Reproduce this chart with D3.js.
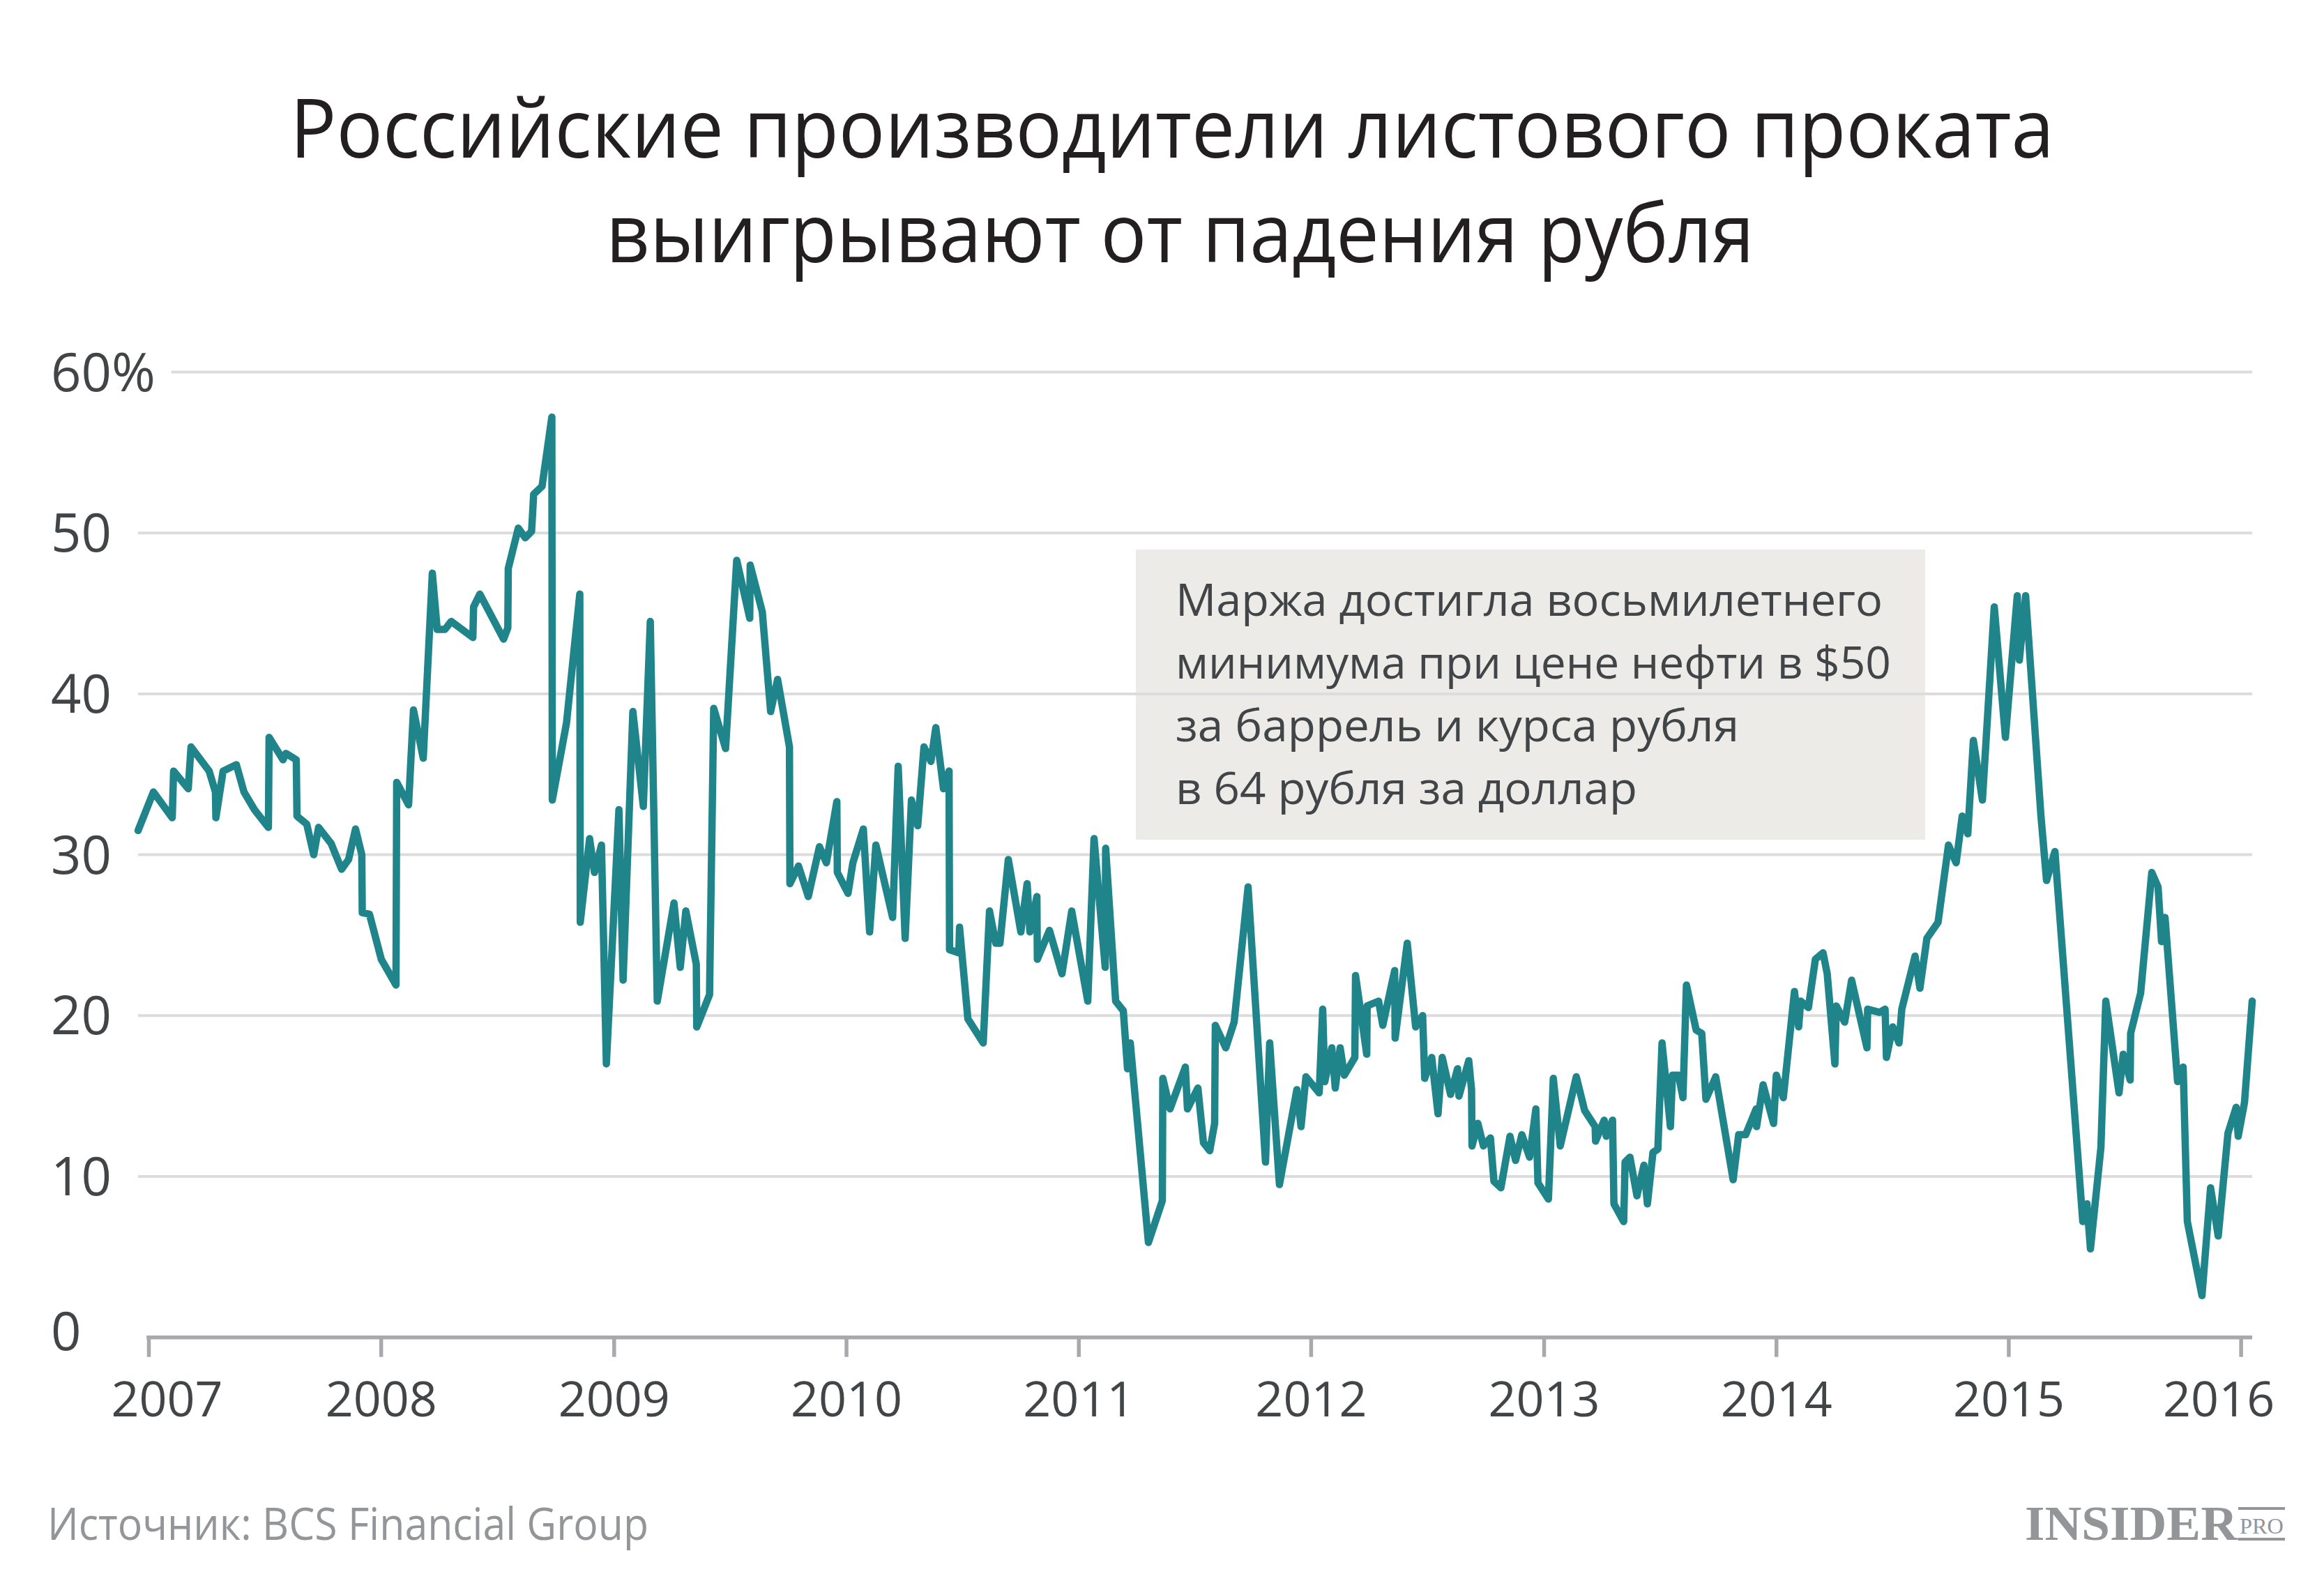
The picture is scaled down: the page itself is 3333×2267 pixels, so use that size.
<!DOCTYPE html>
<html><head><meta charset="utf-8">
<script src="https://cdn.jsdelivr.net/npm/d3@7"></script>
<style>html,body{margin:0;padding:0;background:#fff;} svg{display:block;}</style>
</head><body>
<svg id="chart" width="3333" height="2267"></svg>
<script>
// ---------- data ----------
const titleLines = ["Российские производители листового проката", "выигрывают от падения рубля"];
const noteLines = ["Маржа достигла восьмилетнего", "минимума при цене нефти в $50", "за баррель и курса рубля", "в 64 рубля за доллар"];
const sourceText = "Источник: BCS Financial Group";
const logoMain = "INSIDER";
const logoSub = "PRO";
const yTickValues = [0, 10, 20, 30, 40, 50, 60];
const yTickLabels = ["0", "10", "20", "30", "40", "50", "60%"];
const xTickYears = [2007, 2008, 2009, 2010, 2011, 2012, 2013, 2014, 2015, 2016];

// dates as decimal years, values in %
const pointYears = [
2006.955, 2007.021, 2007.102, 2007.108, 2007.171, 2007.183, 2007.261, 2007.288, 2007.290, 2007.321, 2007.378, 2007.411, 2007.456, 2007.516, 2007.519, 2007.579, 2007.591, 2007.636, 2007.639, 2007.681, 2007.711, 2007.732, 2007.786, 2007.831, 2007.861, 2007.891, 2007.918, 2007.920, 2007.951, 2008.002, 2008.065, 2008.068, 2008.119, 2008.140,
2008.182, 2008.221, 2008.242, 2008.275, 2008.302, 2008.395, 2008.398, 2008.425, 2008.527, 2008.545, 2008.547, 2008.590, 2008.620, 2008.647, 2008.656, 2008.692, 2008.734, 2008.736, 2008.797, 2008.854, 2008.856, 2008.896, 2008.917, 2008.947, 2008.968, 2009.022, 2009.040, 2009.082, 2009.127, 2009.157, 2009.187, 2009.259, 2009.286,
2009.310, 2009.355, 2009.357, 2009.412, 2009.430, 2009.481, 2009.529, 2009.585, 2009.587, 2009.639, 2009.675, 2009.705, 2009.756, 2009.758, 2009.795, 2009.837, 2009.885, 2009.915, 2009.960, 2009.962,
2010.008, 2010.029, 2010.074, 2010.101, 2010.128, 2010.200, 2010.224, 2010.254, 2010.281, 2010.308, 2010.335, 2010.365, 2010.386, 2010.419, 2010.443, 2010.445, 2010.485, 2010.488, 2010.524, 2010.590, 2010.617, 2010.644, 2010.662, 2010.698, 2010.752, 2010.779, 2010.791, 2010.821, 2010.823, 2010.875, 2010.929, 2010.971,
2011.040, 2011.067, 2011.115, 2011.117, 2011.160, 2011.193, 2011.211, 2011.223, 2011.301, 2011.361, 2011.363, 2011.394, 2011.460, 2011.469, 2011.514, 2011.538, 2011.565, 2011.586, 2011.589, 2011.634, 2011.670,
2011.730, 2011.805, 2011.823, 2011.865, 2011.940, 2011.958, 2011.979,
2012.036, 2012.051, 2012.060, 2012.090, 2012.105, 2012.126, 2012.144, 2012.189, 2012.192, 2012.240, 2012.242, 2012.291, 2012.309, 2012.360, 2012.362, 2012.414, 2012.450, 2012.480, 2012.489, 2012.519, 2012.546, 2012.564, 2012.600, 2012.630, 2012.636, 2012.678, 2012.690, 2012.692, 2012.717, 2012.741, 2012.771, 2012.786, 2012.816, 2012.855, 2012.879,
2012.906, 2012.939, 2012.966, 2012.975,
2013.020, 2013.041, 2013.071, 2013.140, 2013.176, 2013.221, 2013.223, 2013.260, 2013.269, 2013.296, 2013.302, 2013.344, 2013.350, 2013.371, 2013.401, 2013.431, 2013.446, 2013.470, 2013.491, 2013.509, 2013.545, 2013.554, 2013.580, 2013.599, 2013.614, 2013.656, 2013.680, 2013.698, 2013.740, 2013.815, 2013.839, 2013.869, 2013.914, 2013.916, 2013.944, 2013.989,
2014.001, 2014.031, 2014.079, 2014.097, 2014.106, 2014.139, 2014.169, 2014.202, 2014.220, 2014.253, 2014.259, 2014.295, 2014.325, 2014.391, 2014.394, 2014.445, 2014.469, 2014.475, 2014.502, 2014.529, 2014.541, 2014.598, 2014.619, 2014.649, 2014.697, 2014.742, 2014.775, 2014.801, 2014.825, 2014.849, 2014.888, 2014.939, 2014.987,
2015.038, 2015.047, 2015.074, 2015.140, 2015.164, 2015.200, 2015.320, 2015.338, 2015.353, 2015.398, 2015.419, 2015.476, 2015.494, 2015.524, 2015.526, 2015.569, 2015.617, 2015.644, 2015.659, 2015.674, 2015.728, 2015.752, 2015.770, 2015.833, 2015.870, 2015.903, 2015.945, 2015.980, 2015.989,
2016.016, 2016.049
];
const marginValues = [
31.5, 33.9, 32.3, 35.2, 34.1, 36.7, 35.2, 33.9, 32.3, 35.2, 35.6, 33.9, 32.8, 31.7, 37.3, 35.9, 36.3, 35.9, 32.4, 31.9, 30.0, 31.7, 30.7, 29.1, 29.7, 31.6, 30.0, 26.4, 26.3, 23.5, 21.9, 34.5, 33.1, 39.0,
36.0, 47.5, 44.0, 44.0, 44.5, 43.5, 45.4, 46.2, 43.4, 44.1, 47.8, 50.3, 49.7, 50.1, 52.4, 52.9, 57.2, 33.4, 38.2, 46.2, 25.8, 31.0, 28.9, 30.6, 17.0, 32.8, 22.2, 38.9, 33.0, 44.5, 20.9, 27.0, 23.0,
26.5, 23.2, 19.3, 21.3, 39.1, 36.6, 48.3, 44.7, 48.0, 45.1, 38.9, 40.9, 36.7, 28.2, 29.3, 27.4, 30.5, 29.5, 33.3, 28.9,
27.6, 29.5, 31.6, 25.2, 30.6, 26.1, 35.5, 24.8, 33.4, 31.8, 36.7, 35.8, 37.9, 34.1, 35.2, 24.1, 23.9, 25.5, 19.8, 18.3, 26.5, 24.5, 24.5, 29.7, 25.2, 28.2, 25.2, 27.4, 23.5, 25.3, 22.6, 26.5,
20.9, 31.0, 23.0, 30.4, 20.9, 20.3, 16.7, 18.3, 5.9, 8.5, 16.1, 14.2, 16.8, 14.2, 15.5, 12.1, 11.6, 13.3, 19.4, 18.0, 19.6,
28.0, 10.9, 18.3, 9.5, 15.4, 13.1, 16.2,
15.2, 20.4, 15.9, 18.0, 15.5, 18.0, 16.3, 17.4, 22.5, 17.6, 20.6, 20.9, 19.4, 22.8, 18.6, 24.5, 19.3, 20.0, 16.1, 17.4, 13.9, 17.4, 15.1, 16.7, 15.0, 17.2, 15.4, 11.9, 13.3, 11.9, 12.4, 9.7, 9.3, 12.5, 11.0,
12.6, 11.2, 14.2, 9.6,
8.6, 16.1, 11.9, 16.2, 14.1, 13.1, 12.2, 13.5, 12.5, 13.5, 8.3, 7.2, 10.9, 11.2, 8.8, 10.7, 8.3, 11.5, 11.7, 18.3, 13.1, 16.3, 16.3, 14.9, 21.9, 19.1, 18.9, 14.8, 16.2, 9.8, 12.6, 12.6, 14.2, 13.1, 15.7, 13.3,
16.3, 14.9, 21.5, 19.3, 20.9, 20.5, 23.5, 23.9, 22.6, 17.0, 20.6, 19.6, 22.2, 18.0, 20.4, 20.2, 20.4, 17.4, 19.3, 18.3, 20.4, 23.7, 21.7, 24.8, 25.8, 30.6, 29.5, 32.4, 31.3, 37.1, 33.4, 45.4, 37.3,
46.1, 42.1, 46.1, 32.4, 28.4, 30.2, 7.2, 8.3, 5.5, 11.8, 20.9, 15.2, 17.6, 16.0, 18.9, 21.4, 28.9, 28.0, 24.6, 26.1, 15.9, 16.8, 7.2, 2.6, 9.3, 6.3, 12.7, 14.3, 12.5,
14.6, 20.9
];

// ---------- setup ----------
const W = 3333, H = 2267;
const FONT = "'Open Sans', 'Noto Sans', sans-serif";
const svg = d3.select("#chart");
svg.append("rect").attr("width", W).attr("height", H).attr("fill", "#ffffff");

function yearToDate(v) {
  const yr = Math.floor(v);
  const s = new Date(yr, 0, 1), e = new Date(yr + 1, 0, 1);
  return new Date(s.getTime() + (v - yr) * (e - s));
}
const data = pointYears.map((v, i) => ({ date: yearToDate(v), value: marginValues[i] }));

const x = d3.scaleTime().domain(d3.extent(data, d => d.date)).range([198, 3230]);
const y = d3.scaleLinear().domain([0, 60]).range([1917.7, 533.5]);

// ---------- title ----------
const titleSpecs = [{ x: 416, y: 226, len: 2530 }, { x: 869, y: 376, len: 1647 }];
svg.append("g").selectAll("text").data(titleLines).join("text")
  .attr("x", (d, i) => titleSpecs[i].x)
  .attr("y", (d, i) => titleSpecs[i].y)
  .attr("textLength", (d, i) => titleSpecs[i].len)
  .attr("lengthAdjust", "spacingAndGlyphs")
  .attr("font-family", FONT).attr("font-size", 118).attr("fill", "#231f20")
  .text(d => d);

// ---------- annotation box ----------
svg.append("rect").attr("x", 1629).attr("y", 788).attr("width", 1132).attr("height", 416)
  .attr("fill", "#ecebe8");

// ---------- y labels + gridlines ----------
const yLab = svg.append("g");
const labels = yLab.selectAll("text").data(yTickValues).join("text")
  .attr("x", 73).attr("y", d => y(d) - (d === 0 ? 9 : 0)).attr("dy", "0.357em")
  .attr("font-family", FONT).attr("font-size", 76).attr("fill", "#414547")
  .text((d, i) => yTickLabels[i]);

const grid = svg.append("g");
labels.each(function (d) {
  if (d === 0) return;
  const right = 73 + this.getComputedTextLength();
  grid.append("line")
    .attr("x1", Math.max(198, right + 23)).attr("x2", x.range()[1])
    .attr("y1", y(d)).attr("y2", y(d))
    .attr("stroke", "#dcdcdc").attr("stroke-width", 4);
});

// ---------- note text ----------
const noteLens = [1014, 1026, 808, 662];
svg.append("g").selectAll("text").data(noteLines).join("text")
  .attr("x", 1686).attr("y", (d, i) => 883 + i * 90)
  .attr("textLength", (d, i) => noteLens[i]).attr("lengthAdjust", "spacingAndGlyphs")
  .attr("font-family", FONT).attr("font-size", 64).attr("fill", "#414547")
  .text(d => d);

// ---------- x axis ----------
const tickDates = xTickYears.map(yr => new Date(yr, 0, 1));
const xAxis = d3.axisBottom(x).tickValues(tickDates).tickFormat(d3.timeFormat("%Y"))
  .tickSize(28).tickSizeOuter(0);
const gx = svg.append("g").attr("transform", `translate(0,${y(0)})`).call(xAxis);
gx.select(".domain").remove();
gx.insert("line", ":first-child")
  .attr("x1", x(tickDates[0]) - 2.75).attr("x2", x.range()[1])
  .attr("y1", 0).attr("y2", 0)
  .attr("stroke", "#a7a9ac").attr("stroke-width", 5.5);
gx.selectAll(".tick line").attr("stroke", "#a7a9ac").attr("stroke-width", 5.5).attr("y1", 0);
const nT = tickDates.length;
gx.selectAll(".tick text")
  .attr("y", 113).attr("dy", 0)
  .attr("dx", (d, i) => i === 0 ? 26 : (i === nT - 1 ? -32 : 0))
  .attr("font-family", FONT).attr("font-size", 70).attr("fill", "#414547");
gx.attr("font-family", null).attr("font-size", null);

// ---------- line ----------
const line = d3.line().x(d => x(d.date)).y(d => y(d.value));
svg.append("path").datum(data)
  .attr("d", line)
  .attr("fill", "none").attr("stroke", "#1f858a").attr("stroke-width", 10.5)
  .attr("stroke-linejoin", "round").attr("stroke-linecap", "round");

// ---------- footer ----------
svg.append("text").attr("x", 68).attr("y", 2208)
  .attr("textLength", 862).attr("lengthAdjust", "spacingAndGlyphs")
  .attr("font-family", FONT).attr("font-size", 64).attr("fill", "#939598")
  .text(sourceText);

const logo = svg.append("g").attr("fill", "#939598");
logo.append("text").attr("x", 2904).attr("y", 2208)
  .attr("textLength", 305).attr("lengthAdjust", "spacingAndGlyphs")
  .attr("font-family", "'Liberation Serif', 'DejaVu Serif', serif").attr("font-weight", "bold")
  .attr("font-size", 70).text(logoMain);
logo.append("rect").attr("x", 3210).attr("y", 2161).attr("width", 67).attr("height", 4);
logo.append("rect").attr("x", 3210).attr("y", 2205).attr("width", 67).attr("height", 4);
logo.append("text").attr("x", 3212).attr("y", 2199)
  .attr("textLength", 63).attr("lengthAdjust", "spacingAndGlyphs")
  .attr("font-family", "'Liberation Serif', 'DejaVu Serif', serif")
  .attr("font-size", 32).text(logoSub);
</script>
</body></html>
